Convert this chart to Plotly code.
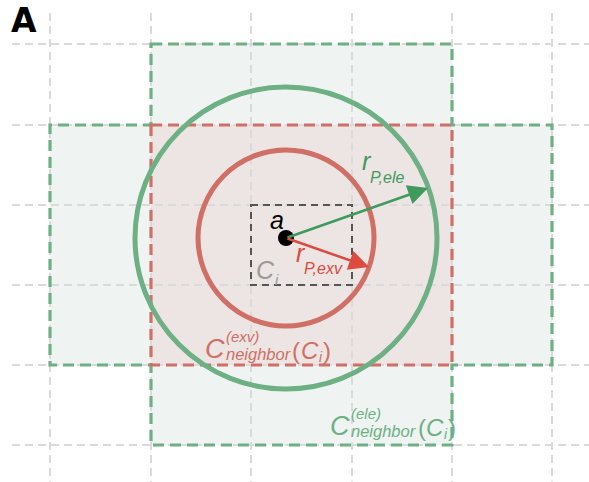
import plotly.graph_objects as go

# Canvas coordinates (pixel-like units, y grows downward)
W, H = 589, 482

# Lattice lines of the cell list
grid_x = [50, 151, 251, 352, 452, 552]
grid_y = [44, 125, 205, 285, 365, 445]
grid_x_span = [12, 589]
grid_y_span = [13, 482]

# Central cell C_i and particle a
cell_ci = [251, 205, 352, 285]        # x0, y0, x1, y1
particle = [286, 238]

# Interaction radii
r_exv = 88
r_ele = 151

# Arrow tips for the two radii
tip_ele = [428, 188]
tip_exv = [369, 267]

# Neighbour regions
exv_rect = [151, 125, 452, 365]
ele_poly_x = [151, 452, 452, 552, 552, 452, 452, 151, 151, 50, 50, 151]
ele_poly_y = [44, 44, 125, 125, 365, 365, 445, 445, 365, 365, 125, 125]

GREEN = "#6cb084"
GREEN_DARK = "#3f9a5e"
RED = "#d06f66"
RED_DARK = "#dd4a3e"
GRID = "#dadada"
FILL_GREEN = "#eff4f2"
FILL_RED = "#ece5e3"

shapes = []

# fills first
ele_path = "M " + " L ".join(f"{x},{y}" for x, y in zip(ele_poly_x, ele_poly_y)) + " Z"
shapes.append(dict(type="path", path=ele_path, xref="x", yref="y",
                   fillcolor=FILL_GREEN, line=dict(width=0), layer="below"))
shapes.append(dict(type="rect", xref="x", yref="y",
                   x0=exv_rect[0], y0=exv_rect[1], x1=exv_rect[2], y1=exv_rect[3],
                   fillcolor=FILL_RED, line=dict(width=0), layer="below"))

# dashed lattice
for gx in grid_x:
    shapes.append(dict(type="line", xref="x", yref="y", x0=gx, x1=gx,
                       y0=grid_y_span[0], y1=grid_y_span[1],
                       line=dict(color=GRID, width=2, dash="8px,5px")))
for gy in grid_y:
    shapes.append(dict(type="line", xref="x", yref="y", y0=gy, y1=gy,
                       x0=grid_x_span[0], x1=grid_x_span[1],
                       line=dict(color=GRID, width=2, dash="8px,5px")))

# neighbour region outlines
shapes.append(dict(type="path", path=ele_path, xref="x", yref="y",
                   line=dict(color=GREEN, width=3.2, dash="11px,6px")))
shapes.append(dict(type="rect", xref="x", yref="y",
                   x0=exv_rect[0], y0=exv_rect[1], x1=exv_rect[2], y1=exv_rect[3],
                   line=dict(color=RED, width=3.2, dash="11px,6px")))

# central cell
shapes.append(dict(type="rect", xref="x", yref="y",
                   x0=cell_ci[0], y0=cell_ci[1], x1=cell_ci[2], y1=cell_ci[3],
                   line=dict(color="#555555", width=2, dash="7px,5px")))

# interaction spheres
for r, col in [(r_ele, GREEN), (r_exv, RED)]:
    shapes.append(dict(type="circle", xref="x", yref="y",
                       x0=particle[0] - r, x1=particle[0] + r,
                       y0=particle[1] - r, y1=particle[1] + r,
                       line=dict(color=col, width=5)))

# particle a
shapes.append(dict(type="circle", xref="x", yref="y",
                   x0=particle[0] - 8, x1=particle[0] + 8,
                   y0=particle[1] - 8, y1=particle[1] + 8,
                   fillcolor="black", line=dict(color="black", width=0)))

FONT = "Liberation Sans, Arial, sans-serif"


def label(x, y, text, size, color, italic=True, anchor="left", bold=False, family=FONT):
    return dict(x=x, y=y, xref="x", yref="y", text=text, showarrow=False,
                xanchor=anchor, yanchor="middle", borderpad=0,
                font=dict(family=family, size=size, color=color,
                          style="italic" if italic else "normal",
                          weight="bold" if bold else "normal"))


def cell_ref(x, y, color):
    # "(C_i)" assembled from its glyph runs, left to right
    return [
        label(x, y, "(", 24, color, italic=False),
        label(x + 8.5, y, "C", 24, color),
        label(x + 26.5, y + 7, "i", 14, color),
        label(x + 30.5, y, ")", 24, color, italic=False),
    ]


annotations = [
    # radius arrows
    dict(x=tip_ele[0], y=tip_ele[1], ax=particle[0], ay=particle[1],
         xref="x", yref="y", axref="x", ayref="y", text="", showarrow=True,
         arrowhead=2, arrowsize=1.6, arrowwidth=2.5, arrowcolor=GREEN_DARK),
    dict(x=tip_exv[0], y=tip_exv[1], ax=particle[0], ay=particle[1],
         xref="x", yref="y", axref="x", ayref="y", text="", showarrow=True,
         arrowhead=2, arrowsize=1.6, arrowwidth=2.5, arrowcolor=RED_DARK),
    # panel letter
    label(24, 20, "A", 33, "black", italic=False, anchor="center", bold=True,
          family="DejaVu Sans, sans-serif"),
    # particle
    label(277, 220, "a", 25, "black", italic=True, anchor="center"),
    # radii
    label(367, 161, "r", 25, GREEN_DARK, anchor="center"),
    label(369, 177, "P,ele", 16, GREEN_DARK),
    label(301, 253, "r", 25, RED_DARK, anchor="center"),
    label(303, 268, "P,exv", 16, RED_DARK),
    # cell label
    label(255, 270, "C", 25, "#9a9a9a"),
    label(274, 279, "i", 15, "#9a9a9a"),
    # exv neighbourhood
    label(215, 349, "C", 27, RED, anchor="center"),
    label(225, 336, "(exv)", 15, RED),
    label(225, 354, "neighbor", 16.5, RED),
    # ele neighbourhood
    label(340, 426, "C", 27, GREEN, anchor="center"),
    label(350, 413, "(ele)", 15, GREEN),
    label(350, 431, "neighbor", 16.5, GREEN),
]
annotations += cell_ref(291, 350, RED)
annotations += cell_ref(416.5, 427, GREEN)

fig = go.Figure()
fig.update_layout(
    width=W, height=H,
    margin=dict(l=0, r=0, t=0, b=0),
    paper_bgcolor="white", plot_bgcolor="white",
    xaxis=dict(range=[0, W], visible=False, fixedrange=True),
    yaxis=dict(range=[H, 0], visible=False, fixedrange=True),
    shapes=shapes, annotations=annotations, showlegend=False,
)
fig.write_html("out.html")
